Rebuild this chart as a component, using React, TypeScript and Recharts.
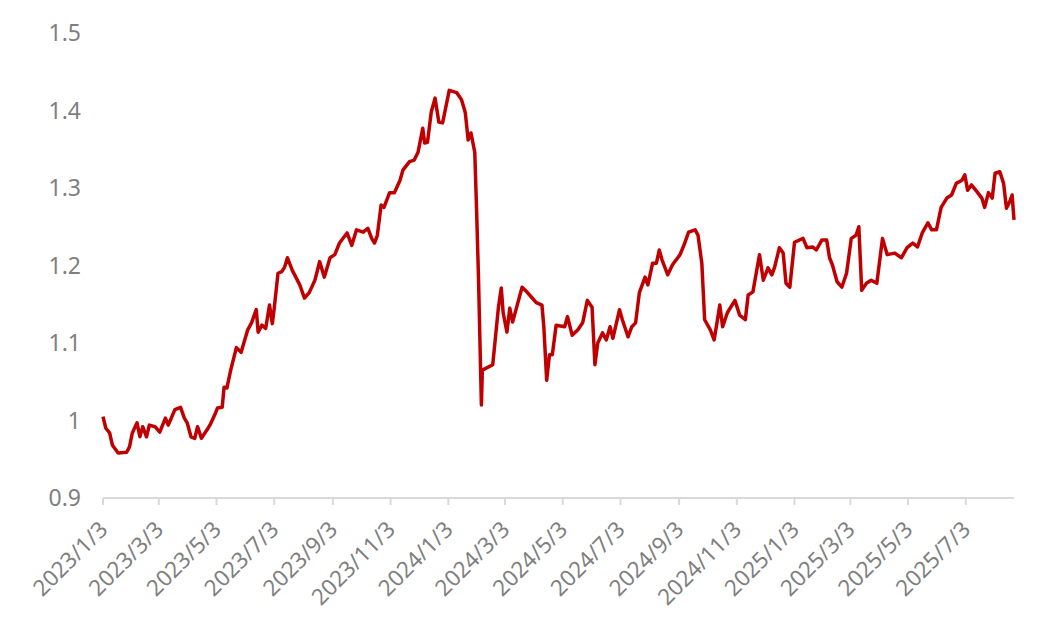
import { LineChart, Line, XAxis, YAxis } from "recharts";

const dates = [
  "2023-01-03", "2023-01-06", "2023-01-10", "2023-01-13", "2023-01-19", "2023-01-28", "2023-01-31",
  "2023-02-03", "2023-02-08", "2023-02-11", "2023-02-14", "2023-02-18", "2023-02-21", "2023-02-27",
  "2023-03-04", "2023-03-10", "2023-03-13", "2023-03-20", "2023-03-26", "2023-03-30", "2023-04-02",
  "2023-04-06", "2023-04-10", "2023-04-13", "2023-04-17", "2023-04-23", "2023-04-26", "2023-05-01",
  "2023-05-04", "2023-05-09", "2023-05-11", "2023-05-14", "2023-05-18", "2023-05-24", "2023-05-29",
  "2023-06-05", "2023-06-09", "2023-06-14", "2023-06-16", "2023-06-20", "2023-06-24", "2023-06-28",
  "2023-07-01", "2023-07-03", "2023-07-07", "2023-07-11", "2023-07-14", "2023-07-17", "2023-07-22",
  "2023-07-30", "2023-08-04", "2023-08-09", "2023-08-15", "2023-08-20", "2023-08-25", "2023-08-31",
  "2023-09-05", "2023-09-10", "2023-09-18", "2023-09-23", "2023-09-28", "2023-10-05", "2023-10-10",
  "2023-10-14", "2023-10-17", "2023-10-20", "2023-10-24", "2023-10-27", "2023-11-02", "2023-11-07",
  "2023-11-13", "2023-11-16", "2023-11-23", "2023-11-28", "2023-12-02", "2023-12-07", "2023-12-09",
  "2023-12-12", "2023-12-16", "2023-12-20", "2023-12-24", "2023-12-28", "2024-01-04", "2024-01-12",
  "2024-01-17", "2024-01-21", "2024-01-24", "2024-01-27", "2024-01-31", "2024-02-02", "2024-02-04",
  "2024-02-07", "2024-02-08", "2024-02-19", "2024-02-25", "2024-02-28", "2024-03-01", "2024-03-05",
  "2024-03-08", "2024-03-11", "2024-03-15", "2024-03-21", "2024-03-26", "2024-03-31", "2024-04-05",
  "2024-04-11", "2024-04-13", "2024-04-16", "2024-04-19", "2024-04-22", "2024-04-26", "2024-05-05",
  "2024-05-08", "2024-05-13", "2024-05-19", "2024-05-24", "2024-05-29", "2024-06-03", "2024-06-06",
  "2024-06-09", "2024-06-14", "2024-06-18", "2024-06-22", "2024-06-25", "2024-07-02", "2024-07-05",
  "2024-07-11", "2024-07-15", "2024-07-19", "2024-07-23", "2024-07-29", "2024-08-01", "2024-08-06",
  "2024-08-10", "2024-08-13", "2024-08-16", "2024-08-22", "2024-08-27", "2024-09-04", "2024-09-09",
  "2024-09-13", "2024-09-20", "2024-09-23", "2024-09-27", "2024-09-30", "2024-10-06", "2024-10-10",
  "2024-10-13", "2024-10-16", "2024-10-19", "2024-10-24", "2024-11-01", "2024-11-06", "2024-11-12",
  "2024-11-15", "2024-11-20", "2024-11-27", "2024-12-01", "2024-12-06", "2024-12-10", "2024-12-13",
  "2024-12-18", "2024-12-22", "2024-12-25", "2024-12-29", "2025-01-03", "2025-01-12", "2025-01-16",
  "2025-01-22", "2025-01-26", "2025-02-01", "2025-02-06", "2025-02-09", "2025-02-12", "2025-02-17",
  "2025-02-22", "2025-02-27", "2025-03-04", "2025-03-09", "2025-03-12", "2025-03-15", "2025-03-20",
  "2025-03-25", "2025-03-31", "2025-04-06", "2025-04-11", "2025-04-19", "2025-04-26", "2025-05-02",
  "2025-05-08", "2025-05-13", "2025-05-18", "2025-05-24", "2025-05-28", "2025-06-02", "2025-06-07",
  "2025-06-13", "2025-06-18", "2025-06-23", "2025-06-29", "2025-07-02", "2025-07-05", "2025-07-09",
  "2025-07-15", "2025-07-20", "2025-07-23", "2025-07-27", "2025-07-31", "2025-08-03", "2025-08-08",
  "2025-08-12", "2025-08-15", "2025-08-19", "2025-08-21", "2025-08-23",
];

const values = [
  1.005, 0.99, 0.984, 0.968, 0.958, 0.959, 0.966,
  0.984, 0.997, 0.979, 0.992, 0.979, 0.994, 0.992,
  0.985, 1.003, 0.994, 1.014, 1.017, 1.003, 0.997,
  0.979, 0.977, 0.992, 0.977, 0.988, 0.994, 1.007,
  1.016, 1.017, 1.043, 1.042, 1.065, 1.094, 1.088,
  1.117, 1.126, 1.143, 1.114, 1.123, 1.119, 1.149,
  1.125, 1.145, 1.19, 1.192, 1.198, 1.21, 1.194,
  1.175, 1.158, 1.165, 1.181, 1.205, 1.185, 1.21,
  1.214, 1.229, 1.242, 1.226, 1.246, 1.243, 1.248,
  1.235, 1.229, 1.239, 1.278, 1.275, 1.294, 1.294,
  1.31, 1.323, 1.334, 1.336, 1.346, 1.377, 1.358,
  1.359, 1.398, 1.416, 1.385, 1.384, 1.426, 1.423,
  1.414, 1.397, 1.362, 1.371, 1.346, 1.268, 1.181,
  1.02, 1.065, 1.072, 1.146, 1.171, 1.139, 1.114,
  1.145, 1.127, 1.145, 1.172, 1.166, 1.159, 1.152,
  1.149, 1.121, 1.052, 1.085, 1.085, 1.123, 1.121,
  1.134, 1.11, 1.117, 1.126, 1.155, 1.146, 1.072,
  1.1, 1.113, 1.104, 1.121, 1.106, 1.143, 1.13,
  1.108, 1.121, 1.126, 1.165, 1.185, 1.175, 1.203,
  1.203, 1.22, 1.207, 1.188, 1.201, 1.214, 1.229,
  1.243, 1.246, 1.239, 1.203, 1.13, 1.117, 1.104,
  1.126, 1.149, 1.121, 1.139, 1.155, 1.136, 1.13,
  1.162, 1.166, 1.214, 1.181, 1.197, 1.188, 1.198,
  1.223, 1.216, 1.177, 1.172, 1.23, 1.235, 1.223,
  1.224, 1.22, 1.233, 1.233, 1.21, 1.201, 1.179,
  1.172, 1.19, 1.235, 1.239, 1.25, 1.168, 1.177,
  1.181, 1.177, 1.235, 1.214, 1.216, 1.21, 1.223,
  1.229, 1.224, 1.242, 1.255, 1.246, 1.246, 1.275,
  1.287, 1.291, 1.306, 1.31, 1.317, 1.297, 1.304,
  1.295, 1.287, 1.275, 1.294, 1.287, 1.319, 1.321,
  1.306, 1.274, 1.284, 1.291, 1.259,
];

const tickLabels = [
  "2023/1/3", "2023/3/3", "2023/5/3", "2023/7/3", "2023/9/3", "2023/11/3",
  "2024/1/3", "2024/3/3", "2024/5/3", "2024/7/3", "2024/9/3", "2024/11/3",
  "2025/1/3", "2025/3/3", "2025/5/3", "2025/7/3",
];

const yTicks = [0.9, 1, 1.1, 1.2, 1.3, 1.4, 1.5];

const toMs = (s: string) => {
  const [y, m, d] = s.split(/[-/]/).map(Number);
  return Date.UTC(y, m - 1, d);
};

const fmt = (ms: number) => {
  const d = new Date(ms);
  return `${d.getUTCFullYear()}/${d.getUTCMonth() + 1}/${d.getUTCDate()}`;
};

const data = dates.map((d, i) => ({ t: toMs(d), v: values[i] }));
const xTicks = tickLabels.map(toMs);
const FONT = "'Noto Sans', sans-serif";

function DateTick({ x, y, payload }: any) {
  const ax = x + 6;
  const ay = y + 24;
  return (
    <text
      x={ax}
      y={ay}
      transform={`rotate(-45, ${ax}, ${ay})`}
      textAnchor="end"
      fontSize={22.5}
      fontFamily={FONT}
      fill="#7f7f7f"
    >
      {fmt(payload.value)}
    </text>
  );
}

export default function App() {
  return (
    <div style={{ background: "#fff", width: 1045, height: 605 }}>
      <LineChart
        width={1045}
        height={605}
        data={data}
        margin={{ top: 25, right: 39, left: 0, bottom: 5 }}
      >
        <XAxis
          dataKey="t"
          type="number"
          scale="time"
          domain={[toMs("2023-01-03"), toMs("2025-08-23")]}
          ticks={xTicks}
          tick={<DateTick />}
          height={110}
          interval={0}
          axisLine={{ stroke: "#d9d9d9", strokeWidth: 2 }}
          tickLine={{ stroke: "#d9d9d9", strokeWidth: 2 }}
          tickSize={7}
        />
        <YAxis
          domain={[0.9, 1.5]}
          ticks={yTicks}
          width={95}
          axisLine={false}
          tickLine={false}
          tickSize={0}
          tickMargin={22}
          tick={{ fontSize: 23, fill: "#7f7f7f", fontFamily: FONT }}
        />
        <Line
          type="linear"
          dataKey="v"
          stroke="#c00000"
          strokeWidth={3.5}
          strokeLinejoin="round"
          dot={false}
          isAnimationActive={false}
        />
      </LineChart>
    </div>
  );
}
